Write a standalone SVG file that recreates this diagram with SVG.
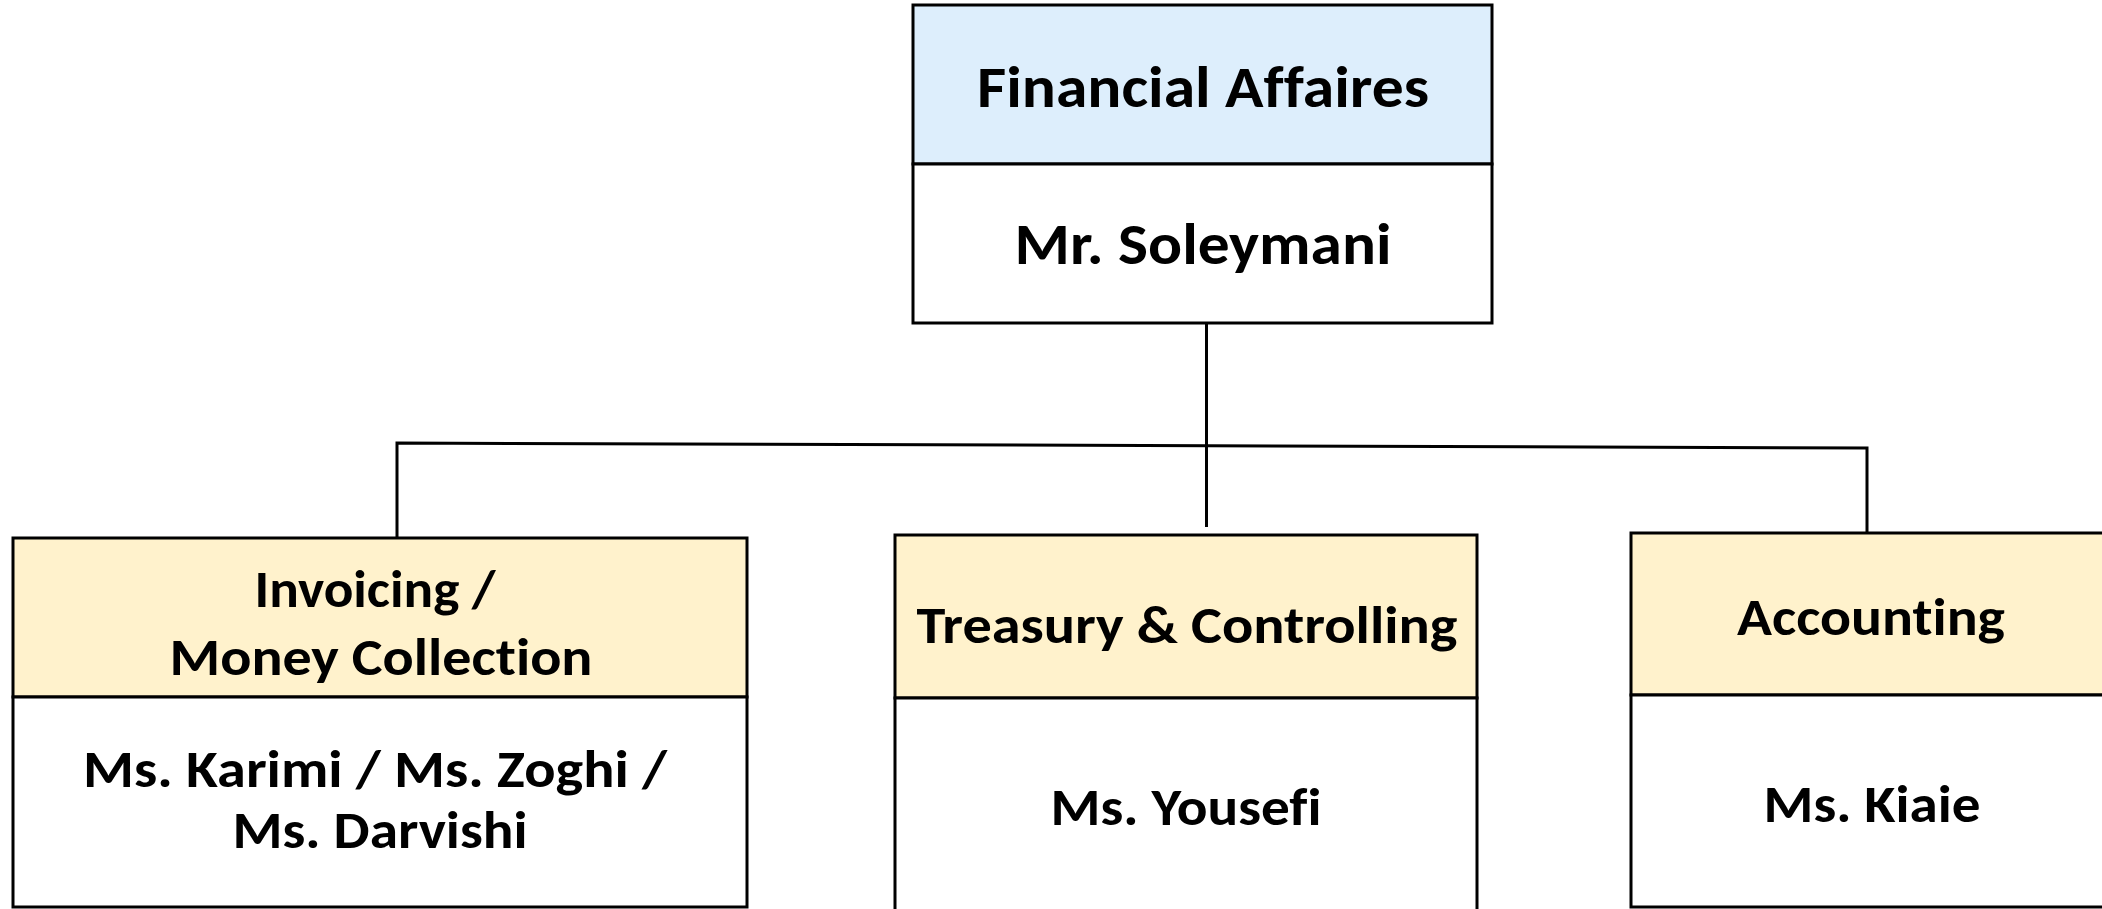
<svg xmlns="http://www.w3.org/2000/svg" width="2102" height="909" viewBox="0 0 2102 909">
<style>
.hb{fill:#DDEEFC;stroke:#000;stroke-width:3}
.hy{fill:#FFF2CC;stroke:#000;stroke-width:3}
.bd{fill:#FFFFFF;stroke:#000;stroke-width:3}
.t{font-family:Carlito,Lato,"Liberation Sans",sans-serif;font-weight:bold;fill:#000;text-anchor:middle;font-variant-ligatures:none}
.t1{font-size:59px}
.t2{font-size:53px}
.cn{fill:none;stroke:#000;stroke-width:3}
</style>
<rect width="2102" height="909" fill="#FFFFFF"/>
<g id="connectors">
<line class="cn" x1="1206.5" y1="323" x2="1206.5" y2="527"/>
<polyline class="cn" points="397,537 397,443 1867,448 1867,533"/>
</g>
<g id="node-financial">
<rect class="hb" x="913" y="5" width="579" height="159"/>
<rect class="bd" x="913" y="164" width="579" height="159"/>
<text class="t t1" x="1203" y="107" textLength="452" lengthAdjust="spacingAndGlyphs">Financial Affaires</text>
<text class="t t1" x="1203" y="264" textLength="377" lengthAdjust="spacingAndGlyphs">Mr. Soleymani</text>
</g>
<g id="node-invoicing">
<rect class="hy" x="13" y="538" width="734" height="159"/>
<rect class="bd" x="13" y="697" width="734" height="210"/>
<text class="t t2" x="375" y="607" textLength="241" lengthAdjust="spacingAndGlyphs">Invoicing /</text>
<text class="t t2" x="381" y="675" textLength="423" lengthAdjust="spacingAndGlyphs">Money Collection</text>
<text class="t t2" x="375" y="787" textLength="584" lengthAdjust="spacingAndGlyphs">Ms. Karimi / Ms. Zoghi /</text>
<text class="t t2" x="380" y="848" textLength="295" lengthAdjust="spacingAndGlyphs">Ms. Darvishi</text>
</g>
<g id="node-treasury">
<rect class="hy" x="895" y="535" width="582" height="163"/>
<rect class="bd" x="895" y="698" width="582" height="220"/>
<text class="t t2" x="1187" y="643" textLength="541" lengthAdjust="spacingAndGlyphs">Treasury &amp; Controlling</text>
<text class="t t2" x="1186" y="825" textLength="271" lengthAdjust="spacingAndGlyphs">Ms. Yousefi</text>
</g>
<g id="node-accounting">
<rect class="hy" x="1631" y="533" width="490" height="162"/>
<rect class="bd" x="1631" y="695" width="490" height="212"/>
<text class="t t2" x="1871" y="635" textLength="268" lengthAdjust="spacingAndGlyphs">Accounting</text>
<text class="t t2" x="1872" y="822" textLength="217" lengthAdjust="spacingAndGlyphs">Ms. Kiaie</text>
</g>
</svg>
